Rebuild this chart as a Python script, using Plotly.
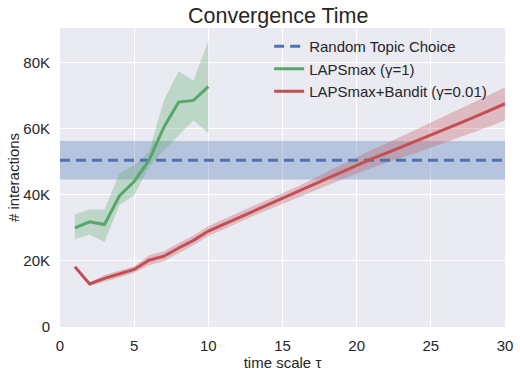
import plotly.graph_objects as go

# ---- data (values in thousands of interactions) ----
random_x = [0, 30]
random_mean = 50.4
random_low = 44.6
random_high = 56.2

green_x = [1, 2, 3, 4, 5, 6, 7, 8, 9, 10]
green_y = [30.0, 31.8, 31.0, 39.6, 44.0, 50.4, 60.4, 68.0, 68.5, 72.7]
green_lo = [26.5, 28.0, 25.7, 36.8, 39.8, 48.4, 53.4, 57.9, 62.4, 58.6]
green_hi = [34.0, 35.5, 35.5, 46.4, 48.9, 52.9, 68.5, 77.3, 74.5, 86.4]

red_x = list(range(1, 31))
red_y = [18.2, 13.0, 14.7, 16.0, 17.4, 20.2, 21.4, 23.9, 26.2, 29.0,
         31.0, 33.0, 35.0, 36.9, 38.8, 40.8, 42.8, 44.8, 46.9, 48.9,
         50.8, 52.6, 54.4, 56.1, 57.9, 59.8, 61.7, 63.6, 65.5, 67.5]
red_err = [0.0, 0.5, 1.0, 1.0, 1.0, 1.5, 1.5, 1.5, 1.5, 1.5,
           1.5, 1.5, 1.5, 1.5, 1.5, 1.7, 1.9, 2.1, 2.3, 2.5,
           2.7, 2.9, 3.2, 3.5, 3.8, 4.0, 4.3, 4.5, 4.8, 5.0]

y_tick_vals = [0, 20, 40, 60, 80]
y_tick_text = ["0", "20K", "40K", "60K", "80K"]
x_tick_vals = [0, 5, 10, 15, 20, 25, 30]

BLUE = "#4C72B0"
GREEN = "#55A868"
RED = "#C44E52"
FONT = "Arial, Liberation Sans, sans-serif"
TXT = "#262626"

fig = go.Figure()

# blue band
fig.add_trace(go.Scatter(x=random_x, y=[random_low] * 2, mode="lines",
                         line=dict(width=0), showlegend=False, hoverinfo="skip"))
fig.add_trace(go.Scatter(x=random_x, y=[random_high] * 2, mode="lines",
                         line=dict(width=0), fill="tonexty",
                         fillcolor="rgba(76,114,176,0.32)", showlegend=False, hoverinfo="skip"))

# green band
fig.add_trace(go.Scatter(x=green_x + green_x[::-1], y=green_hi + green_lo[::-1],
                         mode="lines", line=dict(width=0), fill="toself",
                         fillcolor="rgba(85,168,104,0.3)", showlegend=False, hoverinfo="skip"))
# red band
red_hi = [m + e for m, e in zip(red_y, red_err)]
red_lo = [m - e for m, e in zip(red_y, red_err)]
fig.add_trace(go.Scatter(x=red_x + red_x[::-1], y=red_hi + red_lo[::-1],
                         mode="lines", line=dict(width=0), fill="toself",
                         fillcolor="rgba(196,78,82,0.3)", showlegend=False, hoverinfo="skip"))

fig.add_trace(go.Scatter(x=random_x, y=[random_mean] * 2, mode="lines",
                         name="Random Topic Choice",
                         line=dict(color=BLUE, width=3, dash="10px,6px")))
fig.add_trace(go.Scatter(x=green_x, y=green_y, mode="lines", name="LAPSmax (γ=1)",
                         line=dict(color=GREEN, width=3)))
fig.add_trace(go.Scatter(x=red_x, y=red_y, mode="lines", name="LAPSmax+Bandit (γ=0.01)",
                         line=dict(color=RED, width=3)))

fig.update_layout(
    width=520, height=373,
    margin=dict(l=60, r=15, t=28, b=46),
    paper_bgcolor="white", plot_bgcolor="#EAEAF2",
    font=dict(family=FONT, size=15, color=TXT),
    title=dict(text="Convergence Time", x=0.535, xanchor="center", y=0.958, yanchor="middle",
               font=dict(size=21.5, color=TXT)),
    legend=dict(x=0.47, y=0.993, xanchor="left", yanchor="top", traceorder="normal",
                bgcolor="rgba(0,0,0,0)", font=dict(size=15, color=TXT),
                tracegroupgap=0, itemwidth=30),
    showlegend=True,
)
fig.update_xaxes(range=[0, 30], tickvals=x_tick_vals, showgrid=True, gridcolor="white",
                 gridwidth=1, zeroline=False, showline=False, automargin=False,
                 ticks="outside", ticklen=5, tickcolor="rgba(0,0,0,0)",
                 title=dict(text="time scale τ", font=dict(size=15), standoff=0))
fig.update_yaxes(range=[0, 90.4], tickvals=y_tick_vals, ticktext=y_tick_text,
                 showgrid=True, gridcolor="white", gridwidth=1, zeroline=False,
                 showline=False, ticks="outside", ticklen=6, tickcolor="rgba(0,0,0,0)",
                 automargin=False,
                 title=dict(text="# interactions", font=dict(size=15), standoff=0))

fig.write_html("out.html", config={"displayModeBar": False},
               post_script="document.body.style.margin='0px';")
